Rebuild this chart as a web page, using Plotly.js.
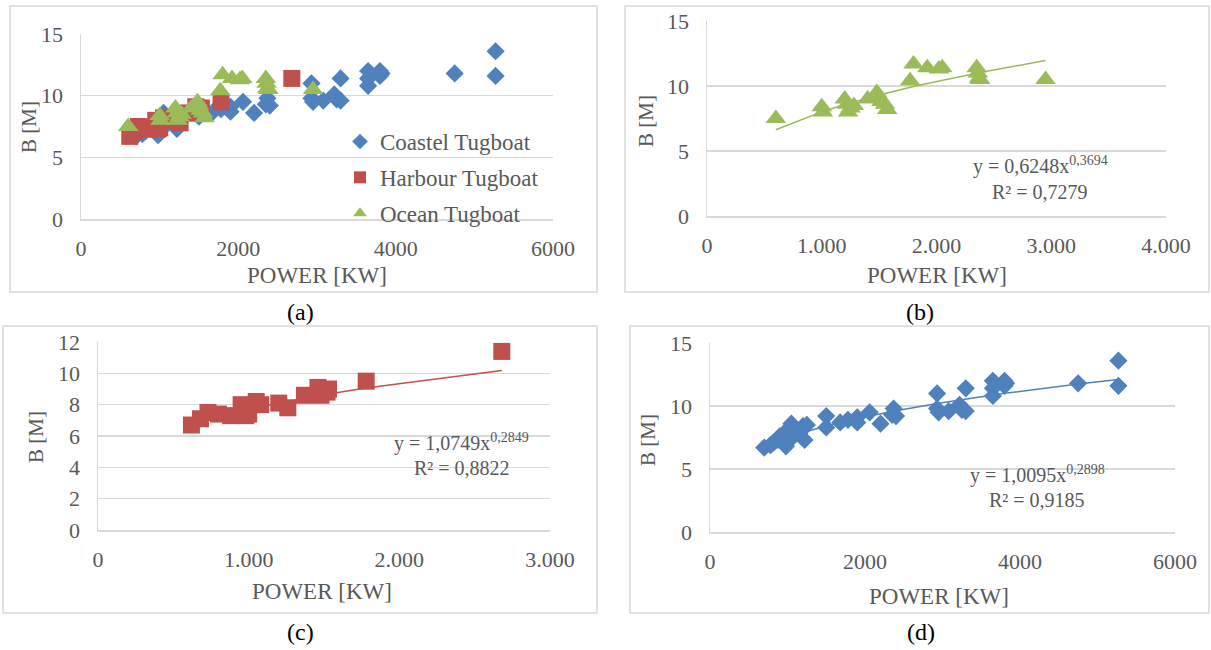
<!DOCTYPE html>
<html><head><meta charset="utf-8">
<script src="https://cdn.plot.ly/plotly-3.0.1.min.js"></script>
<style>html,body{margin:0;padding:0;background:#fff}#chart{width:1211px;height:650px}</style>
</head><body><div id="chart"></div>
<script>
// ---- data ----
const coastelPower = [700, 780, 820, 870, 900, 950, 980, 1000, 1020, 1050, 1080, 1100, 1150, 1200, 1220, 1250, 1500, 1500, 1680, 1780, 1900, 1900, 2060, 2200, 2350, 2370, 2400, 2930, 2930, 2950, 3080, 3220, 3250, 3300, 3300, 3650, 3650, 3650, 3800, 3800, 3820, 4750, 5270, 5270];
const coastelB     = [6.7, 6.9, 7.1, 7.3, 7.6, 7.8, 6.8, 8.0, 7.3, 8.6, 7.6, 8.2, 7.8, 8.4, 7.3, 8.5, 9.2, 8.3, 8.7, 8.9, 9.1, 8.7, 9.5, 8.6, 9.3, 9.8, 9.2, 11.0, 9.8, 9.5, 9.6, 10.1, 9.7, 9.6, 11.4, 12.0, 11.4, 10.8, 12.0, 11.6, 11.8, 11.8, 13.6, 11.6];
const harbourPower = [620, 680, 730, 800, 880, 950, 980, 1000, 1050, 1080, 1200, 1260, 1370, 1460, 1480, 1520, 1530, 1780, 2680];
const harbourB     = [6.7, 7.1, 7.5, 7.4, 7.3, 8.0, 7.3, 7.4, 8.2, 8.0, 8.1, 7.8, 8.6, 9.1, 8.6, 8.8, 9.0, 9.5, 11.4];
const oceanPower   = [600, 1000, 1010, 1200, 1220, 1230, 1250, 1280, 1400, 1480, 1500, 1520, 1550, 1570, 1770, 1800, 1920, 2020, 2050, 2350, 2360, 2370, 2380, 2950];
const oceanB       = [7.5, 8.4, 8.0, 9.0, 8.6, 8.0, 8.3, 8.5, 9.0, 9.5, 9.2, 8.8, 8.6, 8.2, 10.4, 11.7, 11.4, 11.3, 11.4, 11.4, 11.0, 10.6, 10.5, 10.5];
const seriesNames  = ["Coastel Tugboat", "Harbour Tugboat", "Ocean Tugboat"];
// power-law trendline coefficients shown on the chart (y = a·x^b)
const fitOcean   = {a: 0.6248, b: 0.3694, r2: "0,7279", aTxt: "0,6248", bTxt: "0,3694"};
const fitHarbour = {a: 1.0749, b: 0.2849, r2: "0,8822", aTxt: "1,0749", bTxt: "0,2849"};
const fitCoastel = {a: 1.0095, b: 0.2898, r2: "0,9185", aTxt: "1,0095", bTxt: "0,2898"};
const ticks6000 = [0, 2000, 4000, 6000];
const ticks4000 = [0, 1000, 2000, 3000, 4000];
const ticks4000Txt = ["0", "1.000", "2.000", "3.000", "4.000"];
const ticks3000 = [0, 1000, 2000, 3000];
const ticks3000Txt = ["0", "1.000", "2.000", "3.000"];

// ---- styling ----
const W = 1211, H = 650;
const BLUE = "#4f81bd", RED = "#c0504d", GREEN = "#9bbb59";
const GRID = "#d9d9d9", TXT = "#595959";
const FONT = "Liberation Serif";
const px = x => x / W, py = y => 1 - y / H;

function trend(xs, fit) {
  const s = xs.slice().sort((a, b) => a - b);
  return {x: s, y: s.map(v => fit.a * Math.pow(v, fit.b))};
}

const mk = {
  d: {symbol: "diamond", size: 14, color: BLUE},
  s: {symbol: "square", size: 17, color: RED},
  t: {symbol: "triangle-up", size: 18, color: GREEN}
};

const traces = [
  {x: coastelPower, y: coastelB, mode: "markers", name: seriesNames[0], marker: mk.d, xaxis: "x", yaxis: "y", legendgroup: "c"},
  {x: harbourPower, y: harbourB, mode: "markers", name: seriesNames[1], marker: mk.s, xaxis: "x", yaxis: "y", legendgroup: "h"},
  {x: oceanPower, y: oceanB, mode: "markers", name: seriesNames[2], marker: mk.t, xaxis: "x", yaxis: "y", legendgroup: "o"},
];
const tO = trend(oceanPower, fitOcean), tH = trend(harbourPower, fitHarbour), tC = trend(coastelPower, fitCoastel);
traces.push({x: oceanPower, y: oceanB, mode: "markers", marker: mk.t, xaxis: "x2", yaxis: "y2", showlegend: false});
traces.push({x: tO.x, y: tO.y, mode: "lines", line: {color: GREEN, width: 1.5}, xaxis: "x2", yaxis: "y2", showlegend: false});
traces.push({x: harbourPower, y: harbourB, mode: "markers", marker: mk.s, xaxis: "x3", yaxis: "y3", showlegend: false});
traces.push({x: tH.x, y: tH.y, mode: "lines", line: {color: RED, width: 1.5}, xaxis: "x3", yaxis: "y3", showlegend: false});
traces.push({x: coastelPower, y: coastelB, mode: "markers", marker: mk.d, xaxis: "x4", yaxis: "y4", showlegend: false});
traces.push({x: tC.x, y: tC.y, mode: "lines", line: {color: BLUE, width: 1.5}, xaxis: "x4", yaxis: "y4", showlegend: false});

function xax(dom, range, tv, tt, anchor) {
  const o = {domain: dom, range: range, anchor: anchor, showgrid: false, zeroline: false,
    showline: true, linecolor: GRID, linewidth: 1.5, ticks: "", tickvals: tv, ticklabelstandoff: 9,
    tickfont: {family: FONT, size: 22, color: TXT}, fixedrange: true};
  if (tt) o.ticktext = tt;
  return o;
}
function yax(dom, range, dtick, anchor) {
  return {domain: dom, range: range, anchor: anchor, dtick: dtick, tick0: 0, showgrid: true, gridcolor: GRID, gridwidth: 1.5,
    zeroline: false, showline: true, linecolor: GRID, linewidth: 1.5, ticks: "", ticklen: 0, ticklabelstandoff: 12,
    tickfont: {family: FONT, size: 22, color: TXT}, fixedrange: true};
}

const ann = [];
function txt(x, y, t, opts) {
  ann.push(Object.assign({xref: "paper", yref: "paper", x: px(x), y: py(y), text: t, showarrow: false,
    xanchor: "center", yanchor: "middle", font: {family: FONT, size: 23, color: TXT}}, opts || {}));
}
// axis titles
txt(317, 275, "POWER [KW]"); txt(937, 275, "POWER [KW]"); txt(322, 591, "POWER [KW]"); txt(939, 596, "POWER [KW]");
const yt = {textangle: -90, font: {family: FONT, size: 21, color: TXT}};
txt(29, 127, "B [M]", yt); txt(646, 121, "B [M]", yt);
txt(36, 437, "B [M]", yt); txt(648, 440, "B [M]", yt);
// captions
const capFont = {family: FONT, size: 24, color: "#000"};
txt(300, 312, "(a)", {font: capFont}); txt(920, 312, "(b)", {font: capFont});
txt(300, 632, "(c)", {font: capFont}); txt(921, 632, "(d)", {font: capFont});
// equations
const eqFont = {family: FONT, size: 20, color: TXT};
function eq(x, y, f) {
  txt(x, y, "y = " + f.aTxt + "x<sup>" + f.bTxt + "</sup>", {font: eqFont});
  txt(x, y + 26, "R² = " + f.r2, {font: eqFont});
}
eq(1040, 166, fitOcean); eq(462, 442, fitHarbour); eq(1037, 474, fitCoastel);

const box = (x0, y0, x1, y1) => ({type: "rect", xref: "paper", yref: "paper", x0: px(x0), x1: px(x1), y0: py(y0), y1: py(y1), line: {color: GRID, width: 1.5}});

const layout = {
  width: W, height: H, margin: {l: 0, r: 0, t: 0, b: 0}, paper_bgcolor: "#fff", plot_bgcolor: "rgba(0,0,0,0)",
  showlegend: true,
  legend: {x: px(340), y: py(120), xanchor: "left", yanchor: "top", bgcolor: "rgba(0,0,0,0)", itemsizing: "constant",
    font: {family: FONT, size: 23, color: TXT}, tracegroupgap: 3, itemwidth: 30},
  xaxis: xax([px(81), px(553)], [0, 6000], ticks6000, null, "y"),
  yaxis: yax([py(219), py(34)], [0, 15], 5, "x"),
  xaxis2: xax([px(707), px(1166)], [0, 4000], ticks4000, ticks4000Txt, "y2"),
  yaxis2: yax([py(216), py(21)], [0, 15], 5, "x2"),
  xaxis3: xax([px(98), px(550)], [0, 3000], ticks3000, ticks3000Txt, "y3"),
  yaxis3: yax([py(530), py(342)], [0, 12], 2, "x3"),
  xaxis4: xax([px(710), px(1175)], [0, 6000], ticks6000, null, "y4"),
  yaxis4: yax([py(532), py(343)], [0, 15], 5, "x4"),
  annotations: ann,
  shapes: [box(10, 6, 597, 292), box(625, 6, 1209, 292), box(3, 326, 597, 613), box(630, 326, 1209, 613)]
};
Plotly.newPlot("chart", traces, layout, {displayModeBar: false, staticPlot: true});
</script></body></html>
